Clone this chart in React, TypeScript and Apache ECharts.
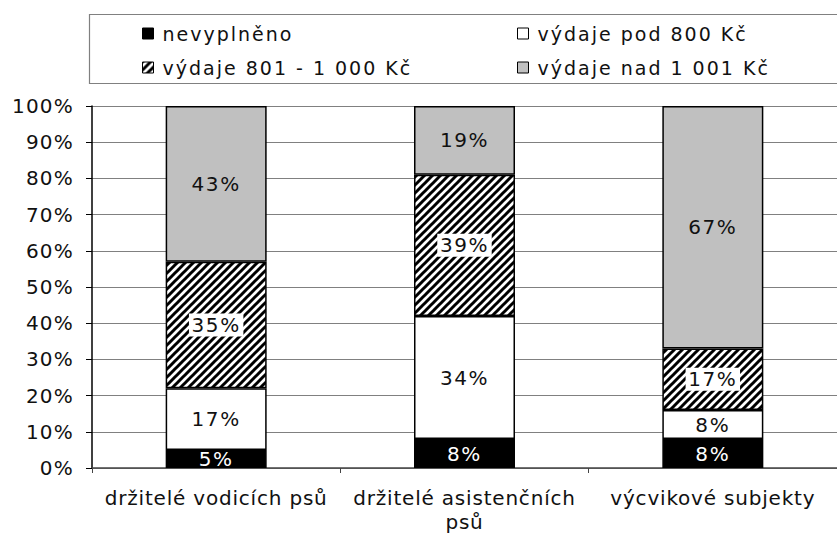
import React, { useEffect, useRef } from "react";
import * as echarts from "echarts";

const categories = ["držitelé vodicích psů", "držitelé asistenčních psů", "výcvikové subjekty"];
const categoryLabels = ["držitelé vodicích psů", "držitelé asistenčních\npsů", "výcvikové subjekty"];
const seriesNames = ["nevyplněno", "výdaje pod 800 Kč", "výdaje 801 - 1 000 Kč", "výdaje nad 1 001 Kč"];
const nevyplneno = [5, 8, 8];
const pod800 = [17, 34, 8];
const od801do1000 = [35, 39, 17];
const nad1001 = [43, 19, 67];
const yTicks = { min: 0, max: 100, interval: 10 };

const FONT = "DejaVu Sans";

function makeHatch(): HTMLCanvasElement {
  const c = document.createElement("canvas");
  const s = 8;
  c.width = s;
  c.height = s;
  const ctx = c.getContext("2d")!;
  ctx.fillStyle = "#ffffff";
  ctx.fillRect(0, 0, s, s);
  ctx.strokeStyle = "#000000";
  ctx.lineWidth = 3;
  ctx.beginPath();
  ctx.moveTo(-1, s + 1);
  ctx.lineTo(s + 1, -1);
  ctx.moveTo(-2, 2);
  ctx.lineTo(2, -2);
  ctx.moveTo(s - 2, s + 2);
  ctx.lineTo(s + 2, s - 2);
  ctx.stroke();
  return c;
}

function spaceTexts(root: HTMLElement) {
  const catParts = new Set<string>();
  categoryLabels.forEach((c) => {
    catParts.add(c.replace("\n", ""));
    c.split("\n").forEach((p) => catParts.add(p));
  });
  root.querySelectorAll("text").forEach((t) => {
    const s = (t.textContent || "").trim();
    const anchor = t.getAttribute("text-anchor") || (t as any).style?.textAnchor || "";
    let ls = 0;
    if (seriesNames.includes(s)) ls = 2;
    else if (catParts.has(s)) ls = 0.8;
    else if (/^\d+%$/.test(s)) ls = anchor === "end" ? 1.2 : 1.6;
    if (ls) (t as SVGTextElement).style.letterSpacing = ls + "px";
  });
}

export default function App() {
  const ref = useRef<HTMLDivElement>(null);
  useEffect(() => {
    if (!ref.current) return;
    const chart = echarts.init(ref.current, undefined, { renderer: "svg" });
    const hatch = { image: makeHatch(), repeat: "repeat" } as any;
    const fills = ["#000000", "#ffffff", hatch, "#c0c0c0"];
    const datas = [nevyplneno, pod800, od801do1000, nad1001];
    const labelColors = ["#ffffff", "#111111", "#111111", "#111111"];
    const series = seriesNames.map((name, i) => ({
      name,
      type: "bar",
      stack: "total",
      barWidth: 101,
      data: datas[i],
      itemStyle: { color: fills[i], borderColor: "#000", borderWidth: 1.5 },
      label: {
        show: true,
        position: "inside",
        formatter: "{c}%",
        color: labelColors[i],
        fontFamily: FONT,
        fontSize: 20,
        ...(i === 2 ? { backgroundColor: "#ffffff", padding: [2, 5, 1, 5] } : {}),
      },
      emphasis: { disabled: true },
    }));
    const legendText = { fontFamily: FONT, fontSize: 19, color: "#111", padding: [0, 0, 0, 4] };
    const legendBase = {
      orient: "vertical",
      top: 24,
      padding: 0,
      itemWidth: 11,
      itemHeight: 11,
      itemGap: 15,
      icon: "rect",
      itemStyle: { borderColor: "#000", borderWidth: 1 },
      textStyle: legendText,
      selectedMode: false,
    };
    chart.setOption({
      animation: false,
      graphic: [
        {
          type: "rect",
          shape: { x: 89.5, y: 14.5, width: 780, height: 69 },
          style: { fill: "#fff", stroke: "#808080", lineWidth: 1.2 },
          z: -1,
        },
      ],
      legend: [
        { ...legendBase, left: 142, data: [seriesNames[0], seriesNames[2]] },
        { ...legendBase, left: 517, data: [seriesNames[1], seriesNames[3]] },
      ],
      grid: { left: 92, right: -5, top: 106, bottom: 69, containLabel: false },
      xAxis: {
        type: "category",
        data: categories,
        axisLine: { lineStyle: { color: "#444", width: 1.5 } },
        axisTick: { show: true, length: 5, lineStyle: { color: "#444" } },
        axisLabel: {
          fontFamily: FONT,
          fontSize: 20,
          color: "#111",
          margin: 18,
          lineHeight: 24,
          interval: 0,
          formatter: (v: string) => categoryLabels[categories.indexOf(v)] ?? v,
        },
      },
      yAxis: {
        type: "value",
        min: yTicks.min,
        max: yTicks.max,
        interval: yTicks.interval,
        axisLine: { show: true, lineStyle: { color: "#000", width: 1.5 } },
        axisTick: { show: true, length: 6, lineStyle: { color: "#000" } },
        axisLabel: {
          formatter: "{value}%",
          fontFamily: FONT,
          fontSize: 20,
          color: "#111",
          margin: 18,
        },
        splitLine: { show: true, lineStyle: { color: "#808080", width: 1 } },
      },
      series,
    });
    spaceTexts(ref.current);
    return () => chart.dispose();
  }, []);
  return <div ref={ref} style={{ width: 837, height: 537, position: "absolute", left: 0, top: 0 }} />;
}
